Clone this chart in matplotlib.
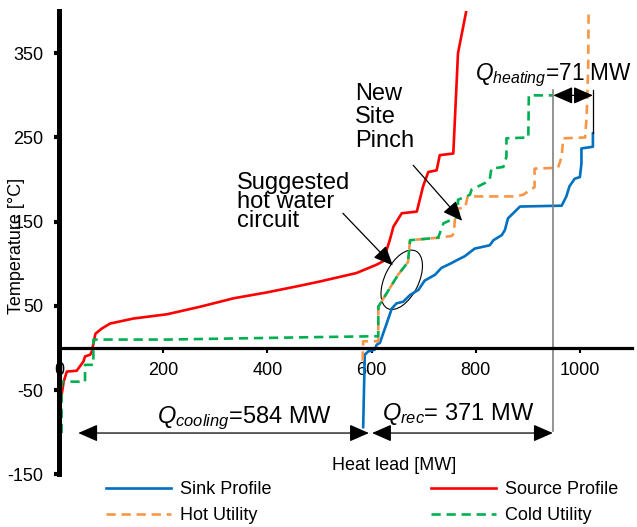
import matplotlib
matplotlib.use("Agg")
import matplotlib.pyplot as plt
from matplotlib.patches import Ellipse
from matplotlib.transforms import ScaledTranslation

plt.rcParams['font.family'] = ['Liberation Sans', 'DejaVu Sans']
plt.rcParams['mathtext.fontset'] = 'custom'
plt.rcParams['mathtext.rm'] = 'Liberation Sans'
plt.rcParams['mathtext.it'] = 'Liberation Sans:italic'
plt.rcParams['axes.unicode_minus'] = False

# ---------------------------------------------------
# composite curves, heat load [MW] vs temperature [degC]
sink_x = [584, 587, 594, 606, 610, 616, 629, 639, 648, 661, 674, 690, 702, 722, 734,
          754, 763, 779, 798, 827, 834, 850, 856, 862, 872, 885, 965, 974, 980, 990,
          1000, 1003, 1003, 1025, 1025]
sink_y = [-94, -8, -4, -2, 4, 6, 29, 47, 53, 55, 63, 69, 80, 87, 95,
          101, 104, 109, 118, 122, 128, 134, 140, 154, 160, 168, 169, 180, 192, 201,
          203, 219, 237, 239, 255]

source_x = [0, 2.5, 9, 15, 34, 47, 50, 60, 63, 70, 82, 98, 143, 207, 271, 335, 399,
            463, 501, 571, 610, 622, 635, 642, 658, 687, 699, 709, 725, 731, 757, 766, 785]
source_y = [-97, -66, -40, -28, -27, -16, -10, -8, -4, 17, 23, 29, 35, 40, 49, 59, 66,
            74, 79, 89, 99, 103, 128, 144, 160, 162, 192, 209, 211, 229, 231, 350, 410]

hot_x = [583, 584, 613, 613, 629, 651, 670, 674, 728, 754, 758, 760, 763, 780, 784,
         787, 875, 891, 913, 913, 958, 965, 968, 1010, 1013, 1016, 1017]
hot_y = [-15, 8, 8, 49, 65, 87, 102, 128, 131, 133, 136, 152, 165, 167, 179,
         180, 180, 182, 191, 213, 214, 227, 249, 250, 275, 334, 420]

cold_x = [5, 5, 50, 50, 66, 66, 207, 501, 613, 613, 629, 651, 670, 674, 728, 738, 766,
          766, 789, 792, 818, 827, 830, 853, 859, 859, 901, 902, 949]
cold_y = [-101, -40, -40, -20, -20, 10, 10, 13, 14, 49, 65, 87, 102, 128, 131, 148, 156,
          176, 182, 188, 196, 200, 213, 215, 227, 249, 250, 300, 300]

xticks = [0, 200, 400, 600, 800, 1000]
yticks = [-150, -50, 50, 150, 250, 350]

q_cooling = (37, 595)
q_rec = (601, 948)
q_heating = (949, 1025)
arrow_y = -101
heat_y = 300
# ---------------------------------------------------

fig = plt.figure(figsize=(6.37, 5.27), dpi=100)
ax = fig.add_axes([0.0926, 0.100, 0.8995, 0.8788])

sink, = ax.plot(sink_x, sink_y, color='#0070C0', lw=1.9, label='Sink Profile')
source, = ax.plot(source_x, source_y, color='#FF0000', lw=1.9, label='Source Profile')
hot, = ax.plot(hot_x, hot_y, color='#F79646', lw=1.9, dashes=(3.5, 2.2), label='Hot Utility')
cold, = ax.plot(cold_x, cold_y, color='#00B050', lw=1.9, dashes=(3.5, 2.2), label='Cold Utility')

ax.set_xlim(0, 1100)
ax.set_ylim(-150, 400)
ax.spines['top'].set_visible(False)
ax.spines['right'].set_visible(False)
ax.spines['bottom'].set_position(('data', 0))
ax.spines['bottom'].set_linewidth(2.3)
ax.spines['left'].set_linewidth(3.6)
ax.set_xticks(xticks)
ax.set_yticks(yticks)
ax.tick_params(axis='x', direction='out', length=3.6, width=1.5, labelsize=13, pad=6.5)
ax.tick_params(axis='y', direction='out', length=3.6, width=3, labelsize=13, pad=7.5)

# pinch line and heating span
ax.plot([q_heating[0], q_heating[0]], [arrow_y + 3, heat_y + 6], color='#808080', lw=1.2)
ax.plot([q_heating[1], q_heating[1]], [255, heat_y + 6], color='black', lw=0.9)

arw = dict(arrowstyle='<|-|>,head_length=0.8,head_width=0.35', color='black',
           lw=0.9, mutation_scale=15, shrinkA=0, shrinkB=0)
ax.annotate('', xy=(q_cooling[0], arrow_y), xytext=(q_cooling[1], arrow_y), arrowprops=arw)
ax.annotate('', xy=(q_rec[0], arrow_y), xytext=(q_rec[1], arrow_y), arrowprops=arw)
ax.annotate('', xy=(q_heating[0], heat_y), xytext=(q_heating[1], heat_y), arrowprops=arw)

ax.text(188, -89, r'$Q_{cooling}$=584 MW', fontsize=17)
ax.text(620, -85.5, r'$Q_{rec}$= 371 MW', fontsize=17)
ax.text(799, 318, r'$Q_{heating}$=71 MW', fontsize=16.3)

one = dict(arrowstyle='-|>,head_length=0.8,head_width=0.35', color='black',
           lw=0.9, mutation_scale=15, shrinkA=0, shrinkB=0)
ax.annotate('', xy=(641, 98), xytext=(545, 160), arrowprops=one)
ax.annotate('', xy=(774, 151), xytext=(680, 217), arrowprops=one)
ax.text(342, 209, 'Suggested\nhot water\ncircuit', fontsize=17, va='top', linespacing=0.82)
ax.text(568, 315, 'New\nSite\nPinch', fontsize=17, va='top', linespacing=1.1)

ell = Ellipse((0, 0), 0.64, 0.34, angle=64, fill=False, ec='black', lw=0.8,
              transform=fig.dpi_scale_trans + ScaledTranslation(658, 81, ax.transData))
ax.add_patch(ell)

ax.text(524, -145, 'Heat lead [MW]', fontsize=13)
fig.text(17 / 637, 1 - 246 / 527, 'Temperature [°C]', rotation=90, fontsize=13,
         ha='center', va='center')

fig.legend(handles=[sink, hot, source, cold], loc='center', bbox_to_anchor=(0.568, 0.046),
           ncol=2, frameon=False, fontsize=13, handlelength=3.6, handletextpad=0.5,
           columnspacing=8.85, labelspacing=0.5, borderpad=0)

fig.savefig('out.png', dpi=100)
